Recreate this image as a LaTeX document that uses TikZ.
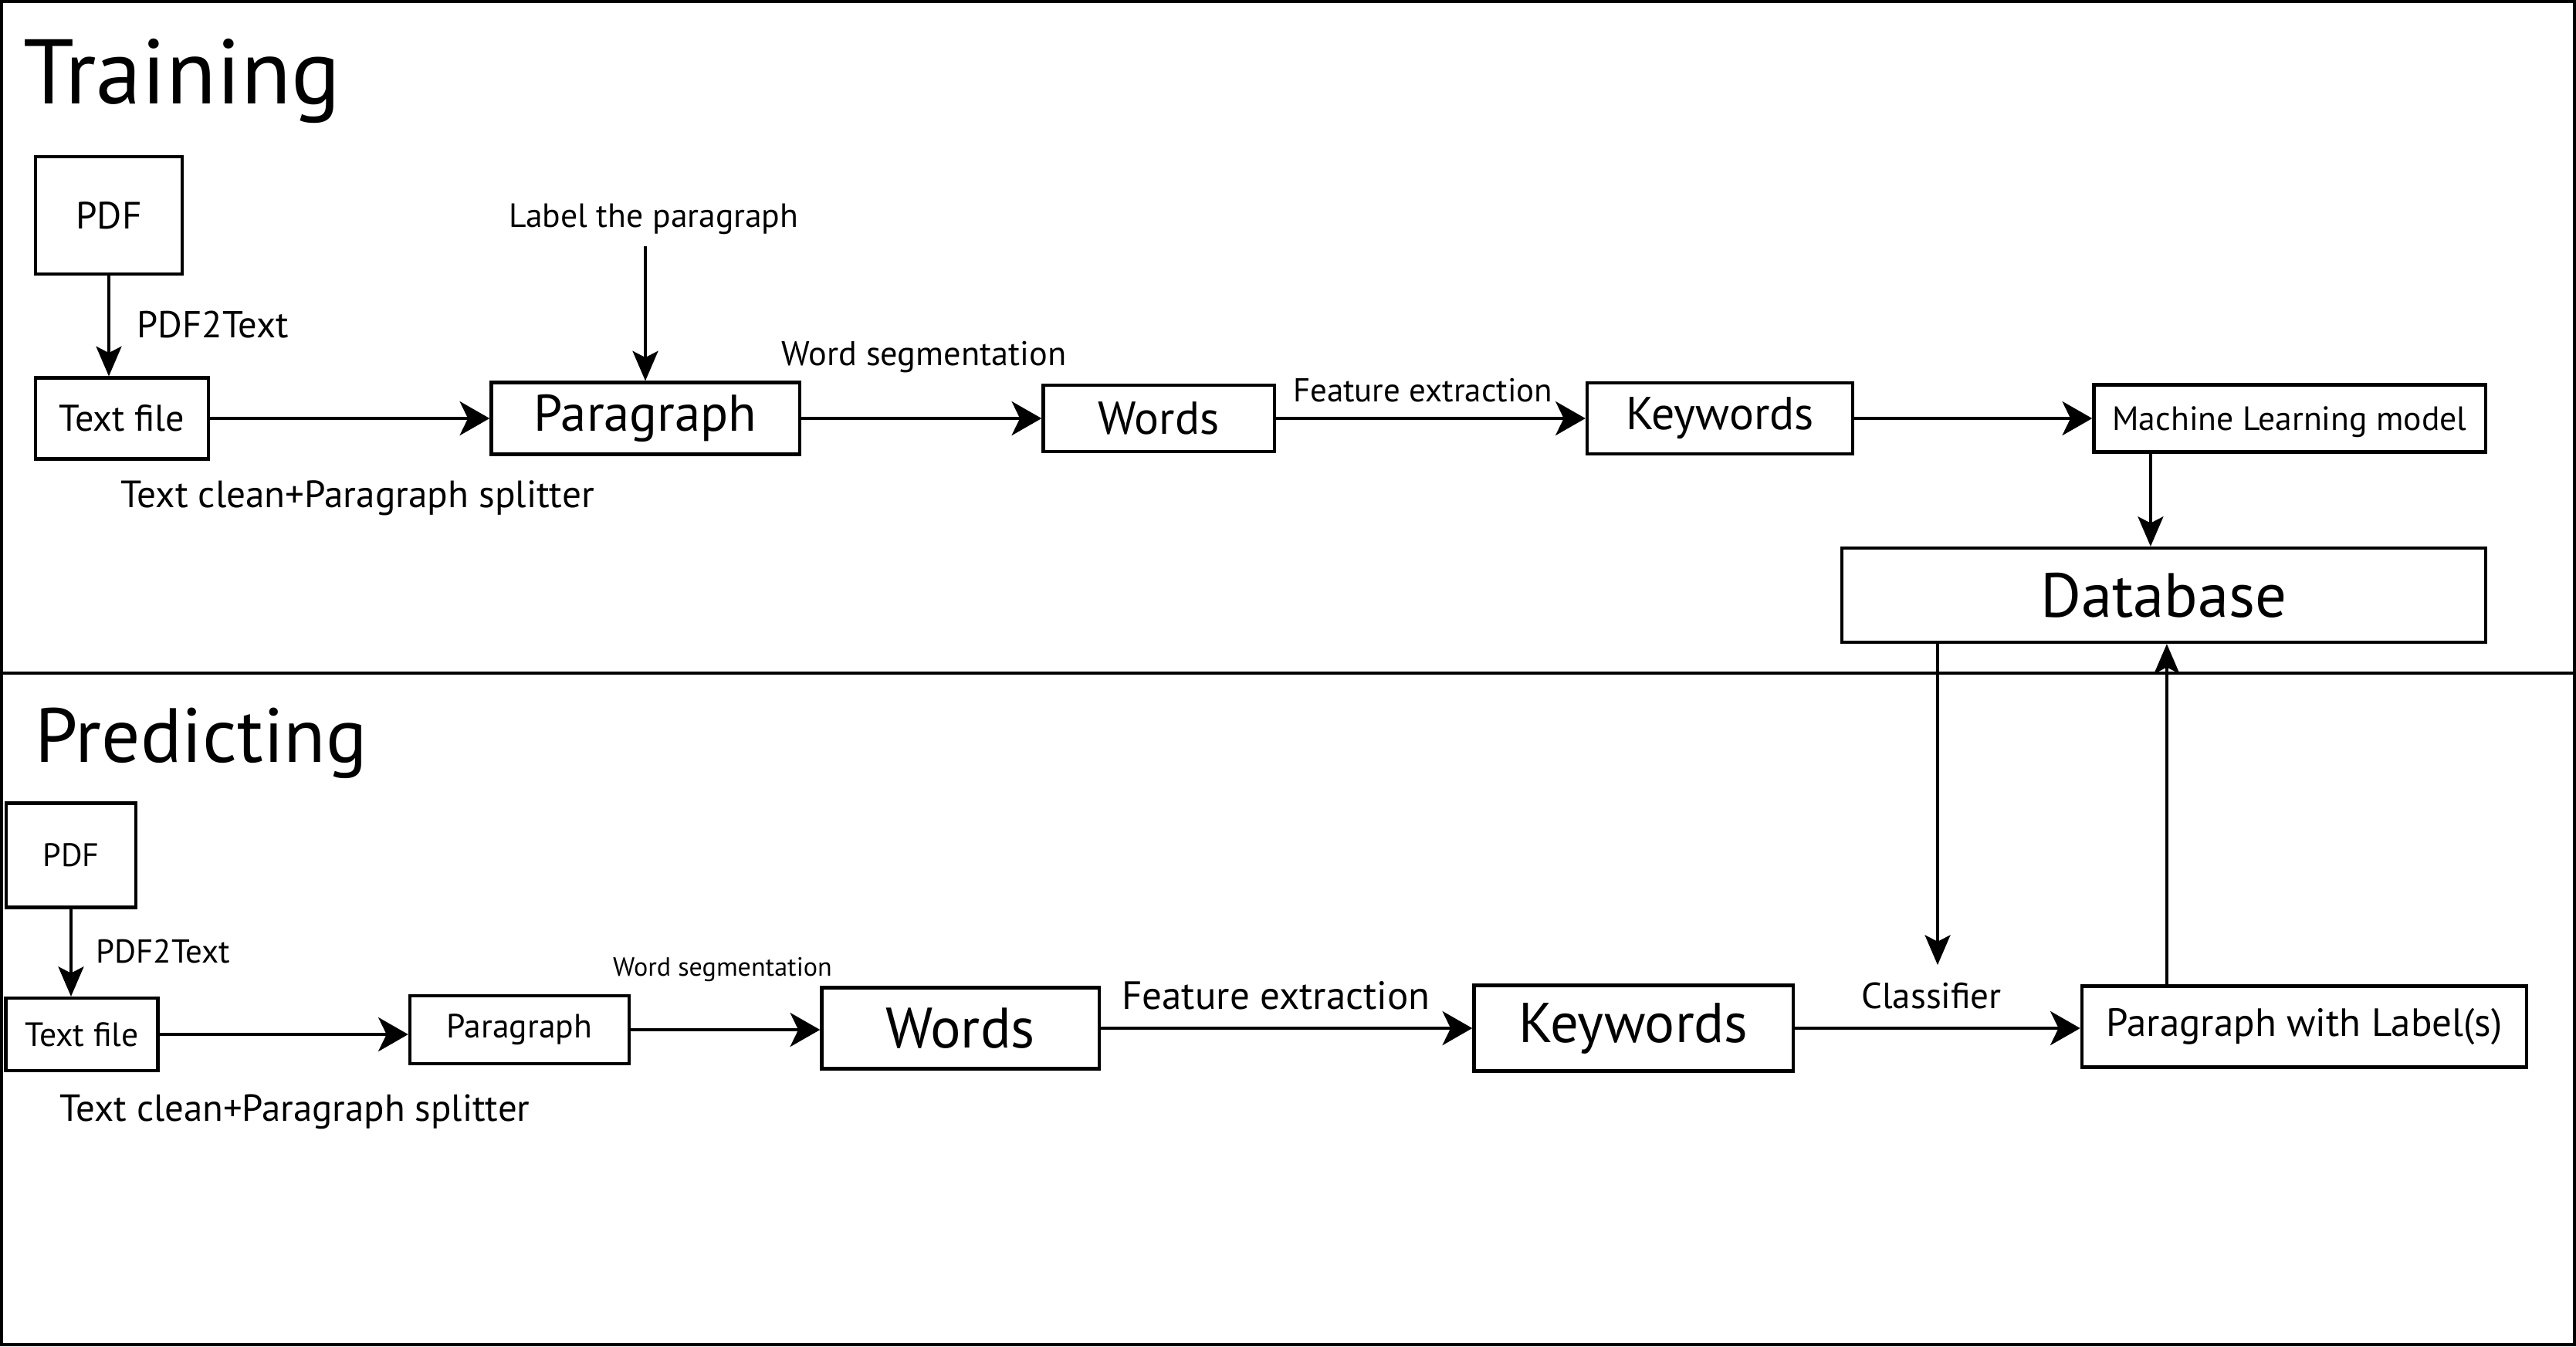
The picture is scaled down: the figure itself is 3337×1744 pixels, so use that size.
\documentclass[tikz,border=0pt]{standalone}
\usepackage{fontspec}
\setmainfont{PT Sans}
\usetikzlibrary{arrows.meta}
\newcommand{\fsz}[1]{\fontsize{#1}{#1}\selectfont}

\begin{document}
\begin{tikzpicture}[x=0.01cm,y=-0.01cm,
  box/.style={draw, line width=1.2pt, inner sep=0pt},
  lbl/.style={inner sep=0pt},
  flow/.style={-{Stealth[length=11pt,width=12.5pt,inset=3pt]}, line width=1.25pt},
  drop/.style={-{Stealth[length=11pt,width=9.4pt,inset=2.4pt]}, line width=0.9pt}]
\useasboundingbox (0,0) rectangle (3337,1744);
\draw[line width=1.15pt] (2,2) rectangle (3335,1742);
\draw[line width=1.15pt] (0,872) -- (3337,872);

% Training
\node[lbl, anchor=base west, font=\fsz{33.8}] (trainT) at (30,134) {Training};
\node[box, minimum width=1.90cm, minimum height=1.52cm, font=\fsz{14}] (pdfA) at (141,279) {PDF};
\node[box, minimum width=2.24cm, minimum height=1.05cm, font=\fsz{13.7}] (txtA) at (158,542) {Text file};
\node[box, minimum width=3.99cm, minimum height=0.93cm, font=\fsz{19}] (parA) at (836,542) {Paragraph};
\node[box, minimum width=2.99cm, minimum height=0.86cm, font=\fsz{17}] (wordsA) at (1501,542) {Words};
\node[box, minimum width=3.44cm, minimum height=0.92cm, font=\fsz{17}] (kwA) at (2228,542) {Keywords};
\node[box, minimum width=5.07cm, minimum height=0.87cm, text depth=0pt, font=\fsz{12.4}] (mlA) at (2966,542) {Machine Learning model};
\node[box, minimum width=8.34cm, minimum height=1.22cm, font=\fsz{23}] (dbA) at (2803,771) {Database};

\node[lbl, anchor=west, font=\fsz{13.8}] (p2tA) at (177,420) {PDF2Text};
\node[lbl, anchor=west, font=\fsz{14}] (cleanA) at (156,645) {Text clean+Paragraph splitter};
\node[lbl, font=\fsz{12.4}] (labelA) at (847,284) {Label the paragraph};
\node[lbl, font=\fsz{12.6}] (wsegA) at (1197,462) {Word segmentation};
\node[lbl, font=\fsz{12.2}] (featA) at (1843,506) {Feature extraction};
\coordinate (labTop) at (836,319);

\draw[drop] (pdfA.south) -- (pdfA.south |- txtA.north);
\draw[drop] (labTop) -- (parA.north);
\draw[flow] (txtA.east) -- (parA.west);
\draw[flow] (parA.east) -- (wordsA.west);
\draw[flow] (wordsA.east) -- (kwA.west);
\draw[flow] (kwA.east) -- (mlA.west);
\draw[drop] ([xshift=-1.8cm]mlA.south) -- ([xshift=-1.8cm]mlA.south |- dbA.north);

% Predicting
\node[lbl, anchor=base west, font=\fsz{28.3}] (predT) at (45,987) {Predicting};
\node[box, minimum width=1.68cm, minimum height=1.35cm, font=\fsz{12}] (pdfB) at (92,1108) {PDF};
\node[box, minimum width=1.97cm, minimum height=0.94cm, font=\fsz{12.4}] (txtB) at (106,1340) {Text file};
\node[box, minimum width=2.84cm, minimum height=0.88cm, font=\fsz{12.4}] (parB) at (673,1334) {Paragraph};
\node[box, minimum width=3.59cm, minimum height=1.05cm, font=\fsz{21}] (wordsB) at (1244,1332) {Words};
\node[box, minimum width=4.13cm, minimum height=1.11cm, font=\fsz{20.7}] (kwB) at (2116,1332) {Keywords};
\node[box, minimum width=5.76cm, minimum height=1.05cm, font=\fsz{14.5}] (pwlB) at (2985,1330) {Paragraph with Label(s)};

\node[lbl, anchor=west, font=\fsz{12.2}] (p2tB) at (124,1232) {PDF2Text};
\node[lbl, anchor=west, font=\fsz{13.9}] (cleanB) at (77,1440) {Text clean+Paragraph splitter};
\node[lbl, font=\fsz{9.7}] (wsegB) at (936,1256) {Word segmentation};
\node[lbl, font=\fsz{14.5}] (featB) at (1653,1290) {Feature extraction};
\node[lbl, font=\fsz{13.4}] (clsB) at (2502,1290) {Classifier};
\coordinate (clsTip) at (2510,1250);

\draw[drop] (pdfB.south) -- (pdfB.south |- txtB.north);
\draw[flow] (txtB.east) -- (txtB.east -| parB.west);
\draw[flow] (parB.east) -- (parB.east -| wordsB.west);
\draw[flow] (wordsB.east) -- (kwB.west);
\draw[flow] (kwB.east) -- (kwB.east -| pwlB.west);
\draw[drop] (clsTip |- dbA.south) -- (clsTip);
\draw[drop] ([xshift=-1.78cm]pwlB.north) -- ([xshift=-1.78cm]pwlB.north |- dbA.south);
\end{tikzpicture}
\end{document}
